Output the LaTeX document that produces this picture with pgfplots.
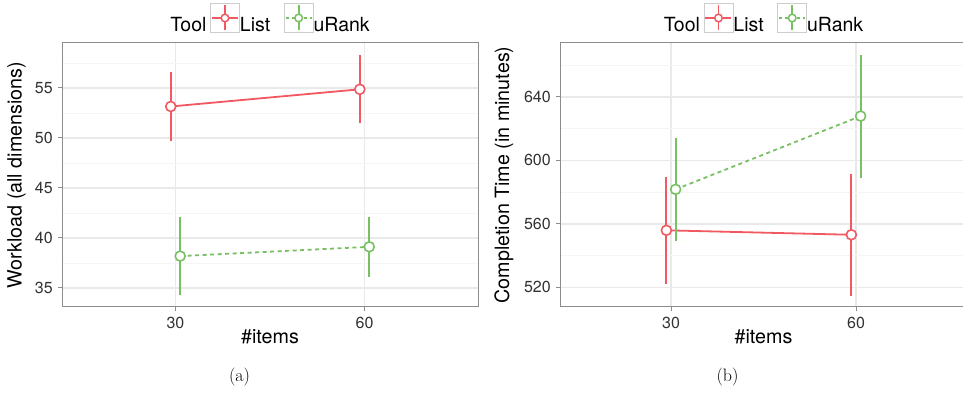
\documentclass[border=0pt]{standalone}
\usepackage{fontspec}
\setmainfont{TeX Gyre Heros}
\newfontfamily\capfont{Latin Modern Roman}
\usepackage{pgfplots}
\pgfplotsset{compat=1.18}

\definecolor{cList}{RGB}{242,88,98}
\definecolor{cRank}{RGB}{120,192,100}
\definecolor{gmaj}{RGB}{233,233,233}
\definecolor{gmin}{RGB}{245,245,245}
\definecolor{bord}{RGB}{140,140,140}
\definecolor{keyb}{RGB}{205,205,205}
\definecolor{tickc}{RGB}{50,50,50}

\pgfplotsset{
  toolkey/.style n args={3}{legend image code/.code={
     \path[draw=none, fill=none] (0pt,7pt) -- (#3,7pt);
     \begin{scope}[yshift=7pt]
     \draw[draw=keyb, fill=white, line width=0.9pt] (#3,-14.5pt) rectangle ++(29pt,29pt);
     \draw[#1, line width=1.7pt, #2] (#3+1.5pt,0pt) -- ++(26pt,0pt);
     \draw[#1, line width=1.8pt, solid] (#3+14.5pt,-12.5pt) -- ++(0,25pt);
     \draw[#1, fill=white, line width=1.5pt, solid] (#3+14.5pt,0pt) circle (3.8pt);
     \end{scope}
  }},
  panel/.style={
    scale only axis, height=264pt,
    xmin=12, xmax=78, xtick={30,60},
    axis line style={draw=bord, line width=1pt},
    tick style={draw=bord, line width=1pt},
    tick align=outside, major tick length=4.5pt, minor tick length=0pt,
    tick pos=left,
    grid=both,
    major grid style={draw=gmaj, line width=1.4pt},
    minor grid style={draw=gmin, line width=0.9pt},
    /pgf/number format/assume math mode=true,
    ticklabel style={font=\fontsize{16}{16}\selectfont, text=tickc},
    xticklabel style={anchor=base, yshift=-17pt, inner sep=0pt},
    yticklabel style={anchor=east, xshift=-4.6pt, inner sep=0pt},
    label style={font=\fontsize{19.7}{20}\selectfont},
    xlabel style={at={(axis description cs:0.5,-0.138)}, anchor=base},
    legend columns=-1,
    legend style={draw=none, fill=none, anchor=center,
      column sep=0pt, inner sep=0pt, outer sep=0pt,
      font=\fontsize{19.5}{20}\selectfont,
      nodes={inner sep=0pt, outer sep=0pt}},
  },
  listplot/.style={cList, line width=1.8pt, mark=*, mark size=5pt,
    mark options={fill=white, line width=1.6pt, solid}, forget plot,
    error bars/.cd, y dir=both, y explicit, error mark=none,
    error bar style={line width=2pt, solid, cList}},
  rankplot/.style={cRank, line width=1.8pt, dash pattern=on 4pt off 3.5pt,
    mark=*, mark size=5pt,
    mark options={fill=white, line width=1.6pt, solid}, forget plot,
    error bars/.cd, y dir=both, y explicit, error mark=none,
    error bar style={line width=2pt, solid, cRank}},
}

\begin{document}
\begin{tikzpicture}
\begin{axis}[panel, at={(62pt,86pt)}, anchor=south west, width=416pt,
  ymin=33.1, ymax=59.5, ytick={35,40,45,50,55},
  minor ytick={37.5,42.5,47.5,52.5,57.5},
  xlabel={\#items}, ylabel={Workload (all dimensions)},
  ylabel style={at={(axis description cs:-0.1094,0.5)}, anchor=center},
  legend style={at={(0.5,1.0947)}}]
\addlegendimage{empty legend}\addlegendentry{Tool}
\addlegendimage{toolkey={cList}{solid}{4pt}}\addlegendentry{List}
\addlegendimage{toolkey={cRank}{dash pattern=on 3pt off 3pt}{14pt}}\addlegendentry{uRank}
\addplot[listplot] coordinates {(29.25,53.15) +- (0,3.48) (59.25,54.87) +- (0,3.40)};
\addplot[rankplot] coordinates {(30.75,38.19) +- (0,3.92) (60.75,39.12) +- (0,2.98)};
\end{axis}

\begin{axis}[panel, at={(560pt,86pt)}, anchor=south west, width=407pt,
  ymin=507.6, ymax=673.9, ytick={520,560,600,640},
  minor ytick={540,580,620,660},
  xlabel={\#items}, ylabel={Completion Time (in minutes)},
  ylabel style={at={(axis description cs:-0.1376,0.5)}, anchor=center},
  legend style={at={(0.5,1.0947)}}]
\addlegendimage{empty legend}\addlegendentry{Tool}
\addlegendimage{toolkey={cList}{solid}{4pt}}\addlegendentry{List}
\addlegendimage{toolkey={cRank}{dash pattern=on 3pt off 3pt}{14pt}}\addlegendentry{uRank}
\addplot[listplot] coordinates {(29.25,555.9) +- (0,33.7) (59.25,553.1) +- (0,38.3)};
\addplot[rankplot] coordinates {(30.75,581.7) +- (0,32.4) (60.75,627.85) +- (0,38.75)};
\end{axis}

\node[font=\capfont\fontsize{18}{18}\selectfont, anchor=center] at (239.5pt,15.5pt) {(a)};
\node[font=\capfont\fontsize{18}{18}\selectfont, anchor=center] at (727.5pt,15.5pt) {(b)};

\pgfresetboundingbox
\path[use as bounding box] (0pt,0pt) rectangle (963pt,393pt);
\end{tikzpicture}
\end{document}
